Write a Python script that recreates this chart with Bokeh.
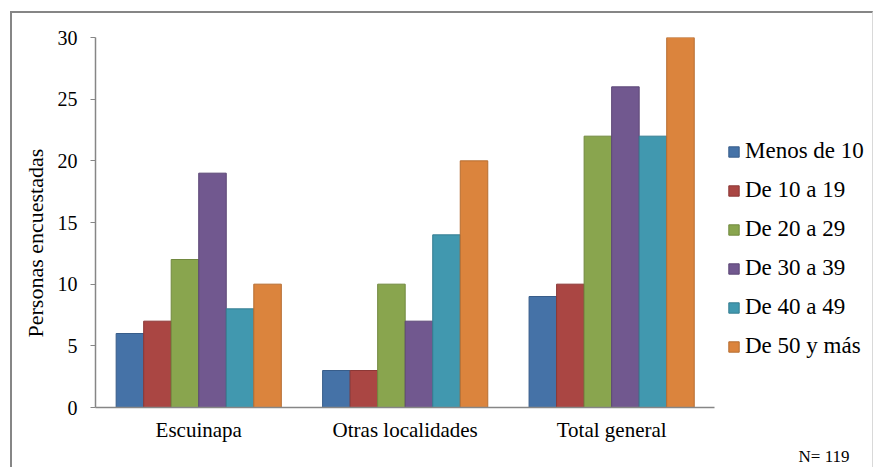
from bokeh.plotting import figure
from bokeh.models import (ColumnDataSource, Legend, LegendItem, Range1d, FixedTicker, Title)
from bokeh.transform import dodge
from bokeh.embed import file_html
from bokeh.resources import INLINE

# ---- data ----
localidades = ["Escuinapa", "Otras localidades", "Total general"]
grupos = ["Menos de 10", "De 10 a 19", "De 20 a 29", "De 30 a 39", "De 40 a 49", "De 50 y más"]
menos_10 = [6, 3, 9]
de_10_19 = [7, 3, 10]
de_20_29 = [12, 10, 22]
de_30_39 = [19, 7, 26]
de_40_49 = [8, 14, 22]
de_50_mas = [10, 20, 30]
y_ticks = [0, 5, 10, 15, 20, 25, 30]
nota = "N= 119"
y_titulo = "Personas encuestadas"

series = [menos_10, de_10_19, de_20_29, de_30_39, de_40_49, de_50_mas]
fills = ["#4572A7", "#AA4643", "#89A54E", "#71588F", "#4198AF", "#DB843D"]
lines = ["#385D8A", "#8C3836", "#71893F", "#5C4776", "#357D91", "#B66D31"]

pos = list(range(len(localidades)))
cols = {"pos": pos}
keys = []
for i, s in enumerate(series):
    k = f"s{i}"
    keys.append(k)
    cols[k] = s
src = ColumnDataSource(cols)

FONT = "Liberation Serif"

W, H = 860, 454
ML, MT, MB = 83, 24, 62
px_per_cat = 617.0 / len(localidades)
x_end = -0.5 + (W - ML) / px_per_cat

p = figure(width=W, height=H, x_range=Range1d(-0.5, x_end), y_range=Range1d(0, 30),
           output_backend="svg", toolbar_location=None,
           min_border_left=ML, min_border_top=MT, min_border_bottom=MB, min_border_right=0)
p.styles = {"box-sizing": "content-box",
            "margin-left": "10px", "margin-top": "11px",
            "border-left": "2px solid #868686", "border-top": "2px solid #868686",
            "border-right": "1px solid #D9D9D9"}
p.outline_line_color = None
p.background_fill_color = "white"
p.border_fill_color = "white"
p.xgrid.grid_line_color = None
p.ygrid.grid_line_color = None

n = len(series)
group_w = 0.8
bw = group_w / n
renderers = []
for i, k in enumerate(keys):
    off = -group_w / 2 + (i + 0.5) * bw
    r = p.vbar(x=dodge("pos", off), top=k, width=bw, bottom=0, source=src,
               fill_color=fills[i], line_color=lines[i], line_width=1)
    renderers.append(r)

# axes
p.yaxis.ticker = FixedTicker(ticks=y_ticks)
p.yaxis.minor_tick_line_color = None
p.yaxis.major_tick_in = 0
p.yaxis.major_tick_out = 5
p.yaxis.axis_line_color = "#868686"
p.yaxis.axis_line_width = 1.5
p.yaxis.major_tick_line_color = "#868686"
p.yaxis.major_label_text_font = FONT
p.yaxis.major_label_text_font_size = "20px"
p.yaxis.major_label_text_color = "black"
p.yaxis.major_label_standoff = 13

# y-axis title, placed as a side title so that it can sit lower, as in the reference
yt = Title(text=y_titulo, align="left", offset=70, text_font=FONT, text_font_size="22px",
           text_font_style="normal", text_color="black", standoff=13)
p.add_layout(yt, "left")

p.xaxis.ticker = FixedTicker(ticks=pos)
p.xaxis.major_label_overrides = {i: name for i, name in zip(pos, localidades)}
p.xaxis.bounds = (-0.5, len(localidades) - 0.5)
p.xaxis.axis_line_color = "#868686"
p.xaxis.axis_line_width = 1.5
p.xaxis.major_tick_line_color = None
p.xaxis.major_tick_in = 0
p.xaxis.major_tick_out = 0
p.xaxis.minor_tick_line_color = None
p.xaxis.major_label_text_font = FONT
p.xaxis.major_label_text_font_size = "21px"
p.xaxis.major_label_text_color = "black"
p.xaxis.major_label_standoff = 10

legend = Legend(items=[LegendItem(label=g, renderers=[r]) for g, r in zip(grupos, renderers)],
                location=(632, 47), orientation="vertical")
legend.label_text_font = FONT
legend.label_text_font_size = "23px"
legend.label_text_color = "black"
legend.glyph_width = 13
legend.glyph_height = 13
legend.label_standoff = 5
legend.label_height = 28
legend.spacing = 11
legend.padding = 0
legend.margin = 0
legend.border_line_color = None
legend.background_fill_alpha = 0
p.add_layout(legend)

t = Title(text=nota, align="right", offset=26, text_font=FONT, text_font_size="17px",
          text_font_style="normal", text_color="black", standoff=0)
p.add_layout(t, "below")

open("out.html", "w").write(file_html(p, INLINE))
